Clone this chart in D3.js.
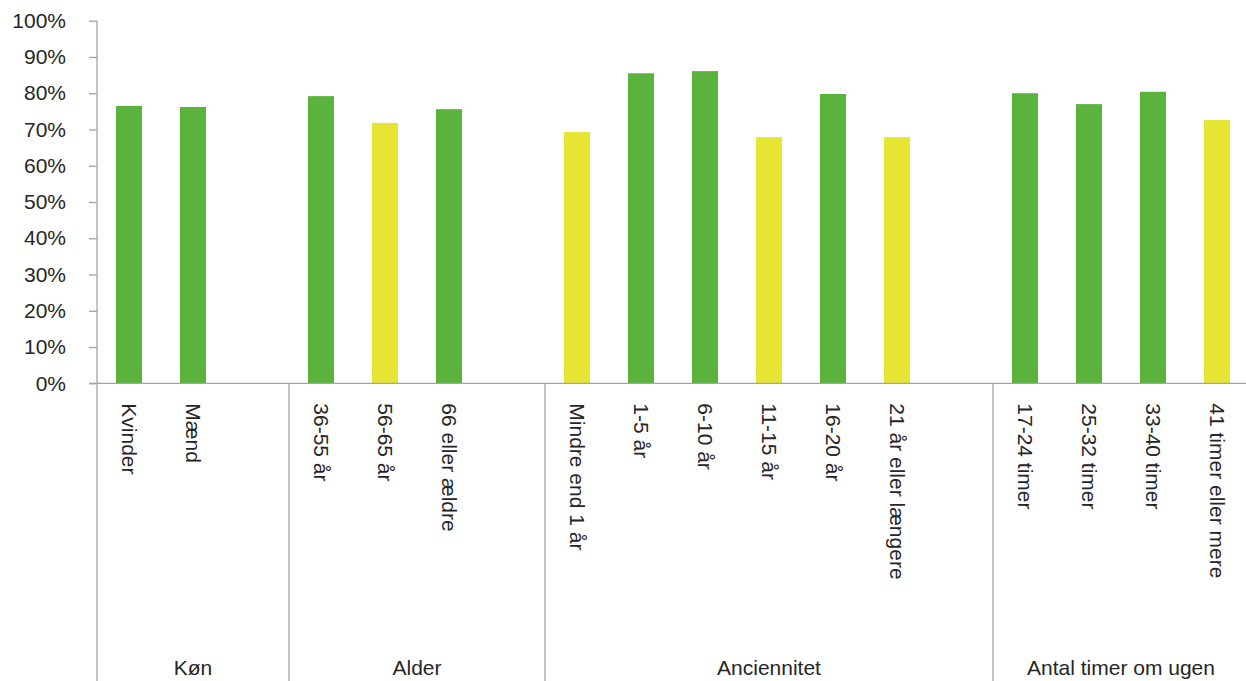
<!DOCTYPE html>
<html>
<head>
<meta charset="utf-8">
<script src="https://cdn.jsdelivr.net/npm/d3@7"></script>
<style>
  html, body { margin: 0; padding: 0; background: #fff; }
  svg { display: block; }
  text { font-family: "Liberation Sans", Arial, Helvetica, sans-serif; fill: #262626; }
</style>
</head>
<body>
<svg id="chart" width="1246" height="681"></svg>
<script>
// Share of respondents per background variable
const groupNames = ["Køn", "Alder", "Anciennitet", "Antal timer om ugen"];
const categories = [
  "Kvinder", "Mænd",
  "36-55 år", "56-65 år", "66 eller ældre",
  "Mindre end 1 år", "1-5 år", "6-10 år", "11-15 år", "16-20 år", "21 år eller længere",
  "17-24 timer", "25-32 timer", "33-40 timer", "41 timer eller mere"
];
const categoryGroup = [0, 0, 1, 1, 1, 2, 2, 2, 2, 2, 2, 3, 3, 3, 3];
const values = [0.765, 0.762, 0.792, 0.718, 0.756, 0.693, 0.855, 0.861, 0.679, 0.798, 0.679, 0.800, 0.770, 0.804, 0.726];
const level = ["high", "high", "high", "low", "high", "low", "high", "high", "low", "high", "low", "high", "high", "high", "low"];
const yTicks = [0, 0.1, 0.2, 0.3, 0.4, 0.5, 0.6, 0.7, 0.8, 0.9, 1.0];

const colour = { high: "#5bb33e", low: "#e6e632" };
const axisColour = "#a3a3a3";

const svg = d3.select("#chart");
const H = 681;
const plotLeft = 97, plotRight = 1249, plotTop = 20.7, plotBase = 383.3;

// Slot sequence: every category gets a slot, and an empty slot separates groups
const slots = [];
groupNames.forEach((g, gi) => {
  categories.forEach((c, i) => { if (categoryGroup[i] === gi) slots.push(c); });
  if (gi < groupNames.length - 1) slots.push("__gap" + gi);
});

const x = d3.scaleBand().domain(slots).range([plotLeft, plotRight]).paddingInner(0.594).paddingOuter(0.297);
const y = d3.scaleLinear().domain([0, 1]).range([plotBase, plotTop]);
const step = x.step();
const slotStart = key => x(key) - (step - x.bandwidth()) / 2;

// Y axis
const yAxis = d3.axisLeft(y).tickValues(yTicks).tickSize(8).tickPadding(23).tickFormat(d3.format(".0%"));
const yg = svg.append("g").attr("transform", `translate(${plotLeft},0)`).call(yAxis);
yg.select(".domain").remove();
yg.selectAll(".tick line").attr("stroke", axisColour).attr("stroke-width", 1.3);
yg.selectAll(".tick text").attr("font-size", 21).attr("fill", "#262626")
  .attr("font-family", "'Liberation Sans', Arial, sans-serif");

// Bars
svg.append("g").selectAll("rect").data(categories).join("rect")
  .attr("x", d => x(d))
  .attr("width", x.bandwidth())
  .attr("y", (d, i) => y(values[i]))
  .attr("height", (d, i) => y(0) - y(values[i]))
  .attr("fill", (d, i) => colour[level[i]]);

// Group boundaries: each group starts at its first category's slot
const groupBounds = groupNames.map((g, gi) => gi === 0 ? plotLeft : slotStart(categories[categoryGroup.indexOf(gi)]));

// Y axis line runs down through the label area; other boundaries start at the baseline
svg.append("g").selectAll("line").data(groupBounds).join("line")
  .attr("x1", d => d).attr("x2", d => d)
  .attr("y1", (d, i) => i === 0 ? plotTop : plotBase).attr("y2", H)
  .attr("stroke", axisColour).attr("stroke-width", 1.3);

// X axis baseline
svg.append("line")
  .attr("x1", plotLeft - 8).attr("x2", plotRight)
  .attr("y1", plotBase).attr("y2", plotBase)
  .attr("stroke", axisColour).attr("stroke-width", 1.3);

// Category labels, written top to bottom
svg.append("g").selectAll("text").data(categories).join("text")
  .attr("transform", d => `translate(${x(d) + x.bandwidth() / 2},${plotBase + 20}) rotate(90)`)
  .attr("dy", "0.35em")
  .attr("text-anchor", "start")
  .attr("font-size", 21)
  .text(d => d);

// Group labels, centred under each group
const groupCentres = groupBounds.map((s, gi) => (s + (gi < groupBounds.length - 1 ? groupBounds[gi + 1] : plotRight)) / 2);
svg.append("g").selectAll("text").data(groupNames).join("text")
  .attr("x", (d, i) => groupCentres[i])
  .attr("y", 675)
  .attr("text-anchor", "middle")
  .attr("font-size", 21)
  .text(d => d);
</script>
</body>
</html>
